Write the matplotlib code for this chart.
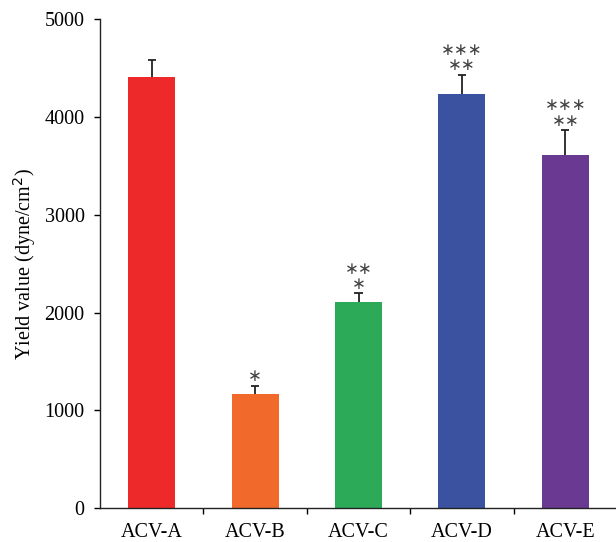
import matplotlib
matplotlib.use("Agg")
import matplotlib.pyplot as plt
import numpy as np

categories = ["ACV-A", "ACV-B", "ACV-C", "ACV-D", "ACV-E"]
values = [4410, 1170, 2110, 4235, 3612]
errors = [172, 80, 88, 202, 258]
stars_top = ["", "", "**", "***", "***"]
stars_bottom = ["", "*", "*", "**", "**"]
colors = ["#ED2A29", "#F26A2B", "#2DAA58", "#3A529F", "#6A3A92"]
yticks = [0, 1000, 2000, 3000, 4000, 5000]

plt.rcParams['font.family'] = ['Liberation Serif', 'DejaVu Serif']

fig = plt.figure(figsize=(6.16, 5.42), dpi=100)
ax = fig.add_axes([100/616, 1 - 508/542, 517/616, (508 - 19.5)/542])

x = np.arange(len(categories))
vals = np.array(values, dtype=float)
errs = np.array(errors, dtype=float)
ax.bar(x, vals, width=0.455, color=colors, zorder=2)
ax.vlines(x, vals, vals + errs, color='#222222', linewidth=1.3, zorder=3)
ax.hlines(vals + errs, x - 0.04, x + 0.04, color='#222222', linewidth=1.3, zorder=3)

for xi, top, st, sb in zip(x, vals + errs, stars_top, stars_bottom):
    rows = [r.replace("*", "\u2217") for r in (st, sb) if r]
    if not rows:
        continue
    offset = 10 if len(rows) == 1 else 17
    ax.annotate("\n".join(rows), (xi, top), xytext=(0, offset),
                textcoords='offset pixels', ha='center', va='center',
                multialignment='center', fontsize=12, linespacing=0.8,
                color='#444444', family='DejaVu Sans')

ax.set_xlim(-0.5, len(categories) - 0.5)
ax.set_ylim(0, 5000)
ax.set_yticks(yticks)
ax.set_yticklabels([str(t) for t in yticks], fontsize=14.5)
ax.set_xticks(x)
ax.set_xticklabels(categories, fontsize=14.5)
ax.set_xticks(np.arange(len(categories)) + 0.5, minor=True)
ax.tick_params(axis='x', which='major', length=0, pad=11)
ax.tick_params(axis='x', which='minor', length=4, width=1, direction='out')
ax.tick_params(axis='y', length=4, width=1, direction='out', pad=7)
ax.set_ylabel("Yield value (dyne/cm$^2$)", fontsize=14.5, labelpad=5)

ax.spines['top'].set_visible(False)
ax.spines['right'].set_visible(False)
for s in ['left', 'bottom']:
    ax.spines[s].set_linewidth(1.0)
    ax.spines[s].set_color('#222222')

fig.savefig("out.png", dpi=100)
